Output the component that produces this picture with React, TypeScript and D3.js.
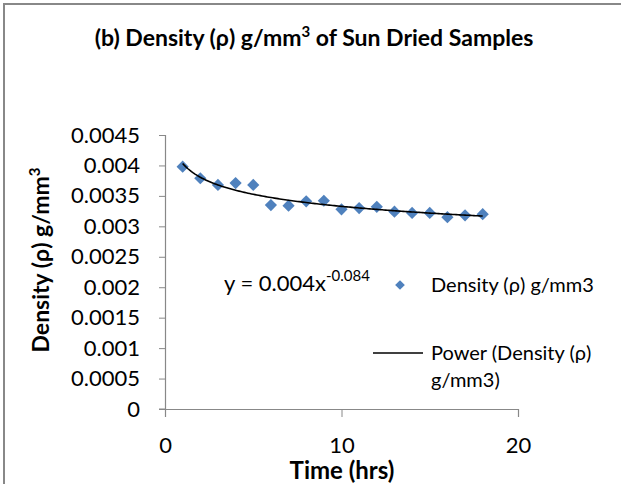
import { useEffect, useRef } from "react";
import * as d3 from "d3";

// hours of drying
const hours = [1, 2, 3, 4, 5, 6, 7, 8, 9, 10, 11, 12, 13, 14, 15, 16, 17, 18];
// density (g/mm3)
const density = [
  0.00398, 0.00379, 0.00368, 0.00371, 0.00368, 0.00335, 0.00334, 0.00341, 0.00342,
  0.00328, 0.0033, 0.00332, 0.00324, 0.00322, 0.00322, 0.00315, 0.00318, 0.0032,
];
const yTicks = [0, 0.0005, 0.001, 0.0015, 0.002, 0.0025, 0.003, 0.0035, 0.004, 0.0045];
const xTicks = [0, 10, 20];

const BLUE = "#4F81BD";
const FONT = "Lato, 'Open Sans', sans-serif";

export default function App() {
  const ref = useRef<SVGSVGElement>(null);

  useEffect(() => {
    const svg = d3.select(ref.current);
    svg.selectAll("*").remove();

    const x = d3.scaleLinear().domain([0, 20]).range([165, 518]);
    const y = d3.scaleLinear().domain([0, 0.0045]).range([409, 135]);

    // chart frame
    svg.append("rect")
      .attr("x", 4).attr("y", 4).attr("width", 640).attr("height", 500)
      .attr("fill", "white").attr("stroke", "#888").attr("stroke-width", 2);

    // y axis
    const yAxis = svg.append("g")
      .attr("transform", `translate(${x(0)},0)`)
      .call(d3.axisLeft(y).tickValues(yTicks).tickSize(6).tickPadding(19)
        .tickFormat((d) => String(+d)));
    yAxis.select(".domain").attr("stroke", "#888").attr("stroke-width", 1.2);
    yAxis.selectAll(".tick line").attr("stroke", "#888");
    yAxis.selectAll("text")
      .attr("font-family", FONT).attr("font-size", 22).attr("fill", "#000");

    // x axis
    const xAxis = svg.append("g")
      .attr("transform", `translate(0,${y(0)})`)
      .call(d3.axisBottom(x).tickValues(xTicks).tickSize(8).tickPadding(20)
        .tickFormat((d) => String(d)));
    xAxis.select(".domain").attr("stroke", "#888").attr("stroke-width", 1.2);
    xAxis.selectAll(".tick line").attr("stroke", "#888");
    xAxis.selectAll("text")
      .attr("font-family", FONT).attr("font-size", 22).attr("fill", "#000");
    // small stub left of the origin like excel draws
    svg.append("line")
      .attr("x1", x(0) - 6).attr("x2", x(0)).attr("y1", y(0)).attr("y2", y(0))
      .attr("stroke", "#888");

    // power trendline y = a x^b fitted on logs
    const lx = hours.map(Math.log);
    const ly = density.map(Math.log);
    const mx = d3.mean(lx)!;
    const my = d3.mean(ly)!;
    const b = d3.sum(lx, (v, i) => (v - mx) * (ly[i] - my)) / d3.sum(lx, (v) => (v - mx) ** 2);
    const a = Math.exp(my - b * mx);
    const curve = d3.range(1, 18.01, 0.1).map((t) => [t, a * Math.pow(t, b)] as [number, number]);

    const diamond = d3.symbol().type(d3.symbolDiamond2).size(95);

    svg.append("g")
      .selectAll("path")
      .data(hours)
      .join("path")
      .attr("transform", (d, i) => `translate(${x(d)},${y(density[i])})`)
      .attr("d", diamond)
      .attr("fill", BLUE);

    svg.append("path")
      .attr("d", d3.line()(curve.map(([t, v]) => [x(t), y(v)])))
      .attr("fill", "none").attr("stroke", "#000").attr("stroke-width", 1.6);

    // title
    const title = svg.append("text")
      .attr("x", 314).attr("y", 46).attr("text-anchor", "middle")
      .attr("font-family", FONT).attr("font-weight", "bold").attr("font-size", 23);
    title.append("tspan").text("(b) Density (ρ) g/mm");
    title.append("tspan").attr("font-size", 15).attr("dy", -9).text("3");
    title.append("tspan").attr("dy", 9).text(" of Sun Dried Samples");

    // axis titles
    svg.append("text")
      .attr("x", 342).attr("y", 479).attr("text-anchor", "middle")
      .attr("font-family", FONT).attr("font-weight", "bold").attr("font-size", 24)
      .text("Time (hrs)");

    const yt = svg.append("text")
      .attr("transform", "translate(49,260) rotate(-90)")
      .attr("text-anchor", "middle")
      .attr("font-family", FONT).attr("font-weight", "bold").attr("font-size", 23);
    yt.append("tspan").text("Density (ρ) g/mm");
    yt.append("tspan").attr("font-size", 15).attr("dy", -9).text("3");

    // equation label
    const eq = svg.append("text")
      .attr("x", 224).attr("y", 291)
      .attr("font-family", FONT).attr("font-size", 22);
    eq.append("tspan").text("y = 0.004x");
    eq.append("tspan").attr("font-size", 15).attr("dy", -10).text("-0.084");

    // legend
    const lg = svg.append("g").attr("font-family", FONT).attr("font-size", 20);
    lg.append("path")
      .attr("transform", "translate(400,285)")
      .attr("d", d3.symbol().type(d3.symbolDiamond2).size(60)())
      .attr("fill", BLUE);
    lg.append("text").attr("x", 431).attr("y", 292).text("Density (ρ) g/mm3");
    lg.append("line")
      .attr("x1", 373).attr("x2", 423).attr("y1", 353).attr("y2", 353)
      .attr("stroke", "#000").attr("stroke-width", 1.6);
    lg.append("text").attr("x", 431).attr("y", 360).text("Power (Density (ρ)");
    lg.append("text").attr("x", 431).attr("y", 387).text("g/mm3)");
  }, []);

  return (
    <svg
      ref={ref}
      width={621}
      height={484}
      style={{ position: "absolute", left: 0, top: 0, background: "white" }}
    />
  );
}
